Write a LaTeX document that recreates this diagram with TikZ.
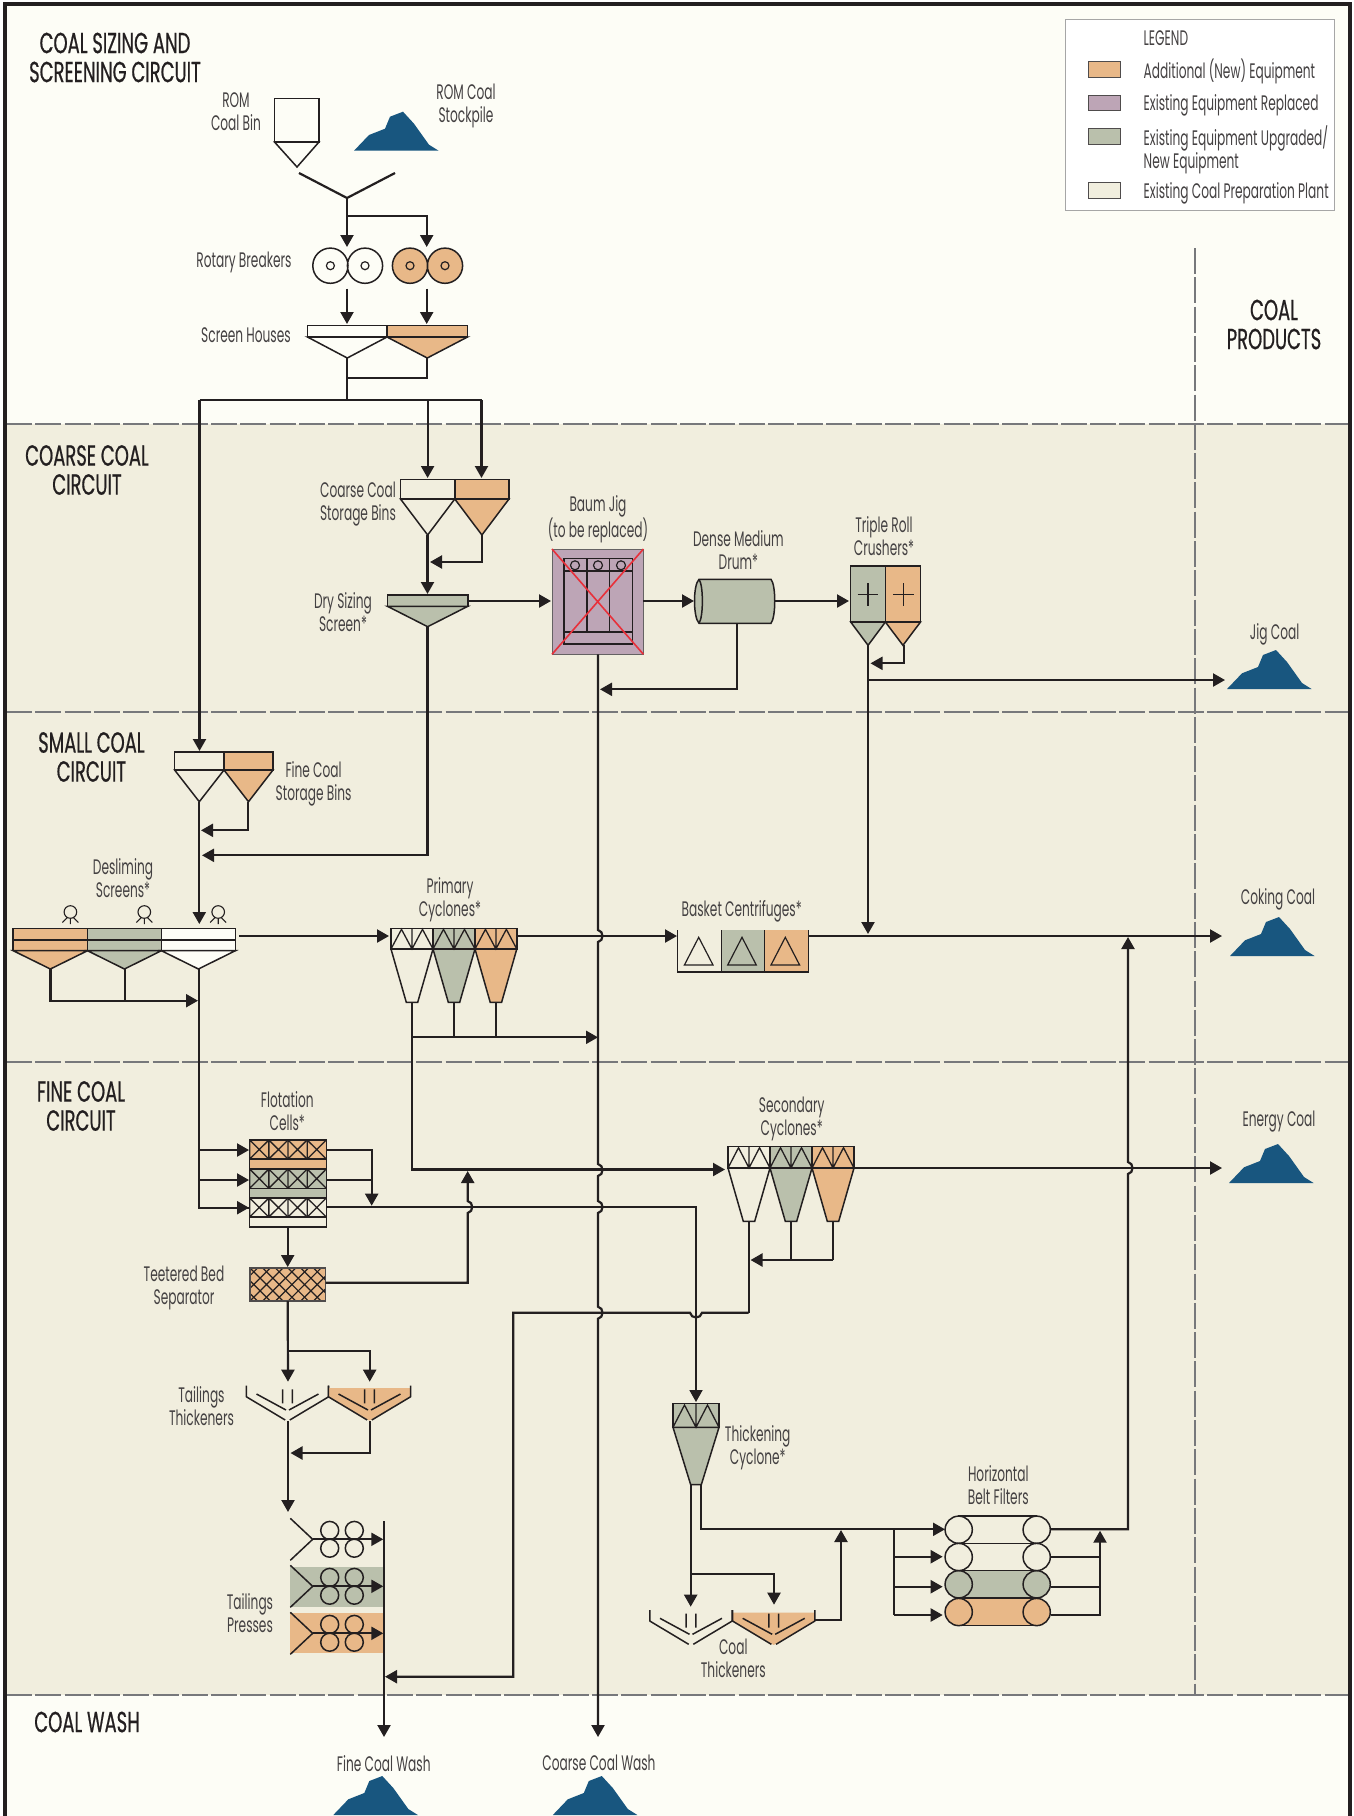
\documentclass[tikz,border=0pt]{standalone}
\usepackage{fontspec}
\usetikzlibrary{arrows.meta}
\newfontfamily\labfont[FakeStretch=0.58]{Poppins}
\newfontfamily\headfont[FakeStretch=0.62,FakeBold=0.6]{Poppins}
\definecolor{ink}{HTML}{231F20}
\definecolor{cream}{HTML}{FDFDF6}
\definecolor{tan}{HTML}{F1EEDE}
\definecolor{orng}{HTML}{E8B888}
\definecolor{grn}{HTML}{BAC0AC}
\definecolor{purp}{HTML}{BDA5B6}
\definecolor{pile}{HTML}{18567F}
\definecolor{sep}{HTML}{77787B}
\tikzset{
 equip/.style={draw=ink,line width=1.5pt,line join=miter},
 flow/.style={draw=ink,line width=2.2pt},
 arr/.style={flow,-{Triangle[length=12pt,width=13pt]}},
 lab/.style={align=center,inner sep=0pt,yshift=-1.5pt,text=ink!85,font=\labfont\fontsize{21}{23}\selectfont},
 llab/.style={lab,anchor=west,align=left},
 head/.style={align=center,inner sep=0pt,text=ink,font=\headfont\fontsize{29}{29}\selectfont},
 sepline/.style={draw=sep,line width=2.6pt,dash pattern=on 26pt off 3.3pt},
}
\newcommand{\stock}[2]{\fill[pile,shift={(#1,#2)}] (0,0) -- (15,-15.7) -- (31,-22) -- (36,-34) -- (49,-39) -- (60,-27) -- (75,-6) -- (84.6,0) -- cycle;}
% hopper: x0 x1 ytop ymid yapex fill
\newcommand{\hopper}[6]{\draw[equip,fill=#6] (#1,#3) rectangle (#2,#4);
 \draw[equip,fill=#6] (#1,#4) -- (#2,#4) -- ({(#1+#2)/2},#5) -- cycle;}
% cyclone: x0 x1 ytop ybar ybot fill
\newcommand{\cyc}[6]{\draw[equip,fill=#6] (#1,#3) rectangle (#2,#4);
 \draw[equip,fill=#6] (#1,#4) -- ({(#1+#2)/2-5.7},#5) -- ({(#1+#2)/2+5.7},#5) -- (#2,#4) -- cycle;
 \draw[equip,line width=1.3pt] ({(#1+#2)/2},#3) -- ({(#1+#2)/2},#4)
  (#1,#4) -- ({#1+(#2-#1)/4},{#3+1}) -- ({(#1+#2)/2},#4) -- ({#1+3*(#2-#1)/4},{#3+1}) -- (#2,#4);}
% thickener: cx ytop
\newcommand{\thkln}[2]{\draw[equip,line join=round]
  ({#1-41.2},#2) -- ({#1-41.2},{#2+11}) -- ({#1-2.3},{#2+34.3})
  ({#1+41.2},#2) -- ({#1+41.2},{#2+11}) -- ({#1+2.3},{#2+34.3})
  ({#1-31},{#2+8.3}) -- ({#1-1.5},{#2+24.3})
  ({#1+31},{#2+8.3}) -- ({#1+1.5},{#2+24.3})
  ({#1-4.9},{#2+3.6}) -- ({#1-4.9},{#2+17.6})
  ({#1+4.9},{#2+3.6}) -- ({#1+4.9},{#2+17.6});}
\newcommand{\thkfl}[2]{\fill[orng] ({#1-41.2},{#2+2.5}) -- ({#1+41.2},{#2+2.5}) -- ({#1+41.2},{#2+11}) -- (#1,{#2+35}) -- ({#1-41.2},{#2+11}) -- cycle;}
% press row: centre y
\newcommand{\pressrow}[1]{\draw[equip] (290.3,{#1-21}) -- (312.7,#1) -- (290.3,{#1+21});
 \foreach \cx in {329.7,354.3}{\draw[equip] (\cx,{#1-8.9}) circle[radius=9] (\cx,{#1+8.9}) circle[radius=9];}}
% flotation row: ytop ymid ybot fill
\newcommand{\flot}[4]{\fill[#4] (249.7,#1) rectangle (326.3,#3);
 \draw[equip] (249.7,#1) rectangle (326.3,#2);
 \foreach \i in {0,1,2,3}{\draw[equip,line width=1.3pt] ({249.7+19.15*\i},#1) -- ++(19.15,{#2-#1}) ({249.7+19.15*\i+19.15},#1) -- ++(-19.15,{#2-#1}) ({249.7+19.15*\i},#1) -- ++(0,{#2-#1});}}
% belt filter: y fill
\newcommand{\beltrow}[2]{\draw[equip,fill=#2] (958.7,{#1-13.6}) -- (1036.7,{#1-13.6}) -- (1036.7,{#1+13.6}) -- (958.7,{#1+13.6}) -- cycle;
 \draw[equip,fill=#2] (958.7,#1) circle[radius=13.6] (1036.7,#1) circle[radius=13.6];}
\newcommand{\motorsym}[1]{\draw[ink,line width=1.1pt] (#1,912) circle[radius=6.3] ({#1-3},917.5) -- ({#1-8},922.5) ({#1+3},917.5) -- ({#1+8},922.5) (#1,918.5) -- (#1,924);}
\newcommand{\hopdn}[2]{-- (#1,{#2-6}) .. controls ({#1+6},{#2-5}) and ({#1+6},{#2+5}) .. (#1,{#2+6})}
\newcommand{\hopup}[2]{-- (#1,{#2+6}) .. controls ({#1+6},{#2+5}) and ({#1+6},{#2-5}) .. (#1,{#2-6})}
\newcommand{\cpt}[3]{\coordinate (#1) at (#2,#3);}
\begin{document}
\begin{tikzpicture}[x=1pt,y=-1pt]
\useasboundingbox (0,0) rectangle (1353,1816);
\begin{scope}
\clip (0,0) rectangle (1353,1816);
\fill[white] (0,0) rectangle (1353,1816);
\fill[cream] (5,4) rectangle (1350,1816);
\fill[tan] (5,424) rectangle (1350,1695);
% separators
\draw[sepline] (6,424) -- (1349,424);
\draw[sepline] (6,712) -- (1349,712);
\draw[sepline] (6,1062) -- (1349,1062);
\draw[sepline] (6,1695) -- (1349,1695);
\draw[sepline,line width=2.4pt] (1195,248) -- (1195,1695);
\draw[ink,line width=3.5pt] (5,1816) -- (5,4) -- (1350,4) -- (1350,1816);
% headings
\node[head] (hSize) at (115,57.5) {COAL SIZING AND\\SCREENING CIRCUIT};
\node[head] (hCoarse) at (87,470) {COARSE COAL\\CIRCUIT};
\node[head] (hSmall) at (91.4,757) {SMALL COAL\\CIRCUIT};
\node[head] (hFine) at (81,1106) {FINE COAL\\CIRCUIT};
\node[head] (hWash) at (87,1722) {COAL WASH};
\node[head] (hProd) at (1274,324.5) {COAL\\PRODUCTS};
% legend
\draw[draw=black!35,fill=white,line width=1pt] (1065.4,19.3) rectangle (1334.5,210.7);
\draw[ink!80,line width=1pt,fill=orng] (1088.6,61.3) rectangle (1120,77.3);
\draw[ink!80,line width=1pt,fill=purp] (1088.6,95) rectangle (1120,110.7);
\draw[ink!80,line width=1pt,fill=grn] (1088.6,128.3) rectangle (1120,144.3);
\draw[ink!80,line width=1pt,fill=tan] (1088.6,182.3) rectangle (1120,198.3);
\node[llab] (lg0) at (1143.5,36.7) {LEGEND};
\node[llab] (lg1) at (1143.5,70) {Additional (New) Equipment};
\node[llab] (lg2) at (1143.5,104) {Existing Equipment Replaced};
\node[llab] (lg3) at (1143.5,148) {Existing Equipment Upgraded/\\New Equipment};
\node[llab] (lg4) at (1143.5,192) {Existing Coal Preparation Plant};
% stockpiles
\stock{354}{150.7}
\stock{1227}{689}
\stock{1230}{956}
\stock{1229}{1183}
\stock{333.3}{1815}
\stock{552.8}{1815}
% ROM bin and chute
\draw[equip] (274.5,98.7) rectangle (319,142);
\draw[equip] (274.5,142) -- (319,142) -- (297,167) -- cycle;
\draw[flow,line join=miter] (299,173) -- (347,198) -- (395,173);
\node[lab] (lROM) at (236,110.5) {ROM\\Coal Bin};
\node[lab] (lPile) at (466,104.5) {ROM Coal\\Stockpile};
% rotary breakers
\foreach \a/\b/\c in {330.4/365/cream,410/445/orng}{
 \draw[equip,fill=\c] (\a,265.7) circle[radius=17.6] (\b,265.7) circle[radius=17.6];
 \draw[equip,line width=1.2pt] (\a,265.7) circle[radius=4] (\b,265.7) circle[radius=4];}
\node[lab] (lRot) at (244,261) {Rotary Breakers};
% screen houses
\hopper{307.5}{387}{325.7}{337}{358}{cream}
\hopper{387}{467.5}{325.7}{337}{358}{orng}
\node[lab] (lScr) at (246,334) {Screen Houses};
% coarse bins
\hopper{400.5}{454.8}{479.3}{499}{535}{tan}
\hopper{454.8}{509}{479.3}{499}{535}{orng}
\node[lab] (lCB) at (358,503) {Coarse Coal\\Storage Bins};
% dry sizing
\hopper{387.5}{467.8}{595}{606.3}{626.7}{grn}
\node[lab] (lDry) at (343,610.5) {Dry Sizing\\Screen*};
% Baum jig
\draw[ink!70,line width=1pt,fill=purp] (552,549) rectangle (643.4,654.3);
\draw[equip] (564,558.7) rectangle (632.6,644);
\draw[equip,line width=2pt] (564,570.7) -- (632.6,570.7) (564,632) -- (632.6,632);
\draw[equip] (587,558.7) -- (587,632) (609.6,558.7) -- (609.6,632);
\foreach \cx in {575,598,621}{\draw[equip,line width=1.2pt] (\cx,565.3) circle[radius=4.5];}
\draw[draw={rgb,255:red,232;green,48;blue,58},line width=1.6pt] (552,549) -- (643.4,654.3) (643.4,549) -- (552,654.3);
\node[lab] (lJig) at (598,517.7) {Baum Jig\\(to be replaced)};
% drum
\draw[equip,fill=grn] (699,579.3) -- (771,579.3) .. controls (776,585) and (776,617) .. (771,623.3) -- (699,623.3) .. controls (693,617) and (693,585) .. (699,579.3) -- cycle;
\draw[equip] (699,579.3) .. controls (703.5,585) and (703.5,617) .. (699,623.3);
\node[lab] (lDrum) at (738.4,548.5) {Dense Medium\\Drum*};
% crushers
\hopper{850.7}{885.4}{566}{622}{645.3}{grn}
\hopper{885.4}{920.5}{566}{622}{645.3}{orng}
\draw[equip] (857.6,594.3) -- (878.4,594.3) (868,583) -- (868,606) (893.2,594.3) -- (914,594.3) (903.6,583) -- (903.6,606);
\node[lab] (lTri) at (884,535) {Triple Roll\\Crushers*};
% product labels
\node[lab] (lJC) at (1274.6,632.5) {Jig Coal};
\node[lab] (lCk) at (1278,898) {Coking Coal};
\node[lab] (lEn) at (1279,1120) {Energy Coal};
\node[lab] (lFW) at (383.8,1761.7) {Fine Coal Wash};
\node[lab] (lCW) at (599,1761.7) {Coarse Coal Wash};
% fine bins
\hopper{174.6}{224}{752}{770}{801.7}{tan}
\hopper{224}{273}{752}{770}{801.7}{orng}
\node[lab] (lFB) at (313.6,782) {Fine Coal\\Storage Bins};
% desliming
\foreach \a/\b/\c in {13.2/87.5/orng,87.5/161.4/grn,161.4/235.4/cream}{
 \hopper{\a}{\b}{928.7}{950.7}{969}{\c}
 \draw[equip] (\a,940) -- (\b,940);}
\motorsym{70.4}\motorsym{144.3}\motorsym{218.2}
\node[lab] (lDes) at (123,876.3) {Desliming\\Screens*};
% primary cyclones
\cyc{391}{433}{928.3}{949}{1002.3}{tan}
\cyc{433}{475}{928.3}{949}{1002.3}{grn}
\cyc{475}{516.8}{928.3}{949}{1002.3}{orng}
\node[lab] (lPri) at (450,898.6) {Primary\\Cyclones*};
% basket
\fill[grn] (721.3,930) rectangle (764.7,972);
\fill[orng] (764.7,930) rectangle (808.3,972);
\draw[equip] (677.3,930) -- (677.3,972) -- (808.3,972) -- (808.3,930) (721.3,930) -- (721.3,972) (764.7,930) -- (764.7,972);
\foreach \cx in {698.7,742,785.3}{\draw[equip,line width=1.2pt] (\cx,937.3) -- ({\cx+14.3},965) -- ({\cx-14.3},965) -- cycle;}
\node[lab] (lBas) at (741.7,910) {Basket Centrifuges*};
% flotation
\flot{1140}{1159}{1169}{orng}
\flot{1169}{1188.3}{1198}{grn}
\flot{1198}{1217}{1227}{tan}
\draw[equip] (249.7,1140) rectangle (326.3,1227);
\draw[equip] (249.7,1159) -- (326.3,1159) (249.7,1169) -- (326.3,1169) (249.7,1188.3) -- (326.3,1188.3) (249.7,1198) -- (326.3,1198) (249.7,1217) -- (326.3,1217);
\node[lab] (lFlo) at (287.3,1109.2) {Flotation\\Cells*};
% teetered
\fill[orng] (250,1268) rectangle (325.7,1301);
\begin{scope}
\clip (250,1268) rectangle (325.7,1301);
\foreach \i in {-3,...,6}{\draw[ink,line width=1.2pt] ({250+12.7*\i},1268) -- ++(33,33) ({250+12.7*\i},1301) -- ++(33,-33);}
\end{scope}
\draw[ink!80,line width=1.2pt] (250,1268) rectangle (325.7,1301);
\node[lab] (lTee) at (184,1286.8) {Teetered Bed\\Separator};
% secondary cyclones
\cyc{728}{770}{1146.7}{1168}{1221.3}{tan}
\cyc{770}{812}{1146.7}{1168}{1221.3}{grn}
\cyc{812}{854}{1146.7}{1168}{1221.3}{orng}
\node[lab] (lSec) at (791.7,1117) {Secondary\\Cyclones*};
% thickeners
\thkln{287.5}{1385.7}
\thkfl{369.5}{1385.7}
\thkln{369.5}{1385.7}
\node[lab] (lTT) at (201.5,1405) {Tailings\\Thickeners};
\thkln{691}{1610}
\thkfl{773.7}{1610}
\thkln{773.7}{1610}
\node[lab] (lCT) at (733.3,1657.3) {Coal\\Thickeners};
% presses
\fill[grn] (290.3,1567) rectangle (383.3,1606.7);
\fill[orng] (290.3,1613) rectangle (383.3,1652.7);
\pressrow{1539.3}\pressrow{1586.3}\pressrow{1633.3}
\node[lab] (lPr) at (250,1611.7) {Tailings\\Presses};
% thickening cyclone
\draw[equip,fill=grn] (673,1403.7) rectangle (719,1427.3);
\draw[equip,fill=grn] (673,1427.3) -- (690.7,1484.7) -- (701.3,1484.7) -- (719,1427.3) -- cycle;
\draw[equip,line width=1.3pt] (696,1403.7) -- (696,1427.3) (673,1427.3) -- (684.5,1405) -- (696,1427.3) -- (707.5,1405) -- (719,1427.3);
\node[lab] (lThk) at (757.7,1445.8) {Thickening\\Cyclone*};
% belt filters
\beltrow{1529.7}{tan}\beltrow{1557}{tan}\beltrow{1584.3}{grn}\beltrow{1612}{orng}
\node[lab] (lHB) at (998.3,1483.5) {Horizontal\\Belt Filters};
% --- connection points
\cpt{ch}{347}{198}\cpt{chj}{347}{216}\cpt{b1in}{347}{247}\cpt{b2in}{426.7}{247}
\cpt{b1out}{347}{288.7}\cpt{b2out}{426.7}{288.7}\cpt{s1in}{347}{324}\cpt{s2in}{426.7}{324}
\cpt{s1ap}{347}{358}\cpt{s2ap}{427}{358}\cpt{sj}{347}{378}\cpt{dist}{347}{400}
\cpt{dL}{199.5}{400}\cpt{dM}{427.6}{400}\cpt{dR}{481.5}{400}
\cpt{cb1}{427.6}{478}\cpt{cb2}{481.5}{478}\cpt{fb1}{199.5}{751}
\cpt{cb1ap}{427.5}{535}\cpt{cb2ap}{481.6}{535}\cpt{cbj}{430}{562}\cpt{dryin}{427.5}{594}
\cpt{dryap}{427.5}{626.7}\cpt{dryE}{469}{601}\cpt{jigW}{551}{601}\cpt{dryJ}{202}{855.3}
\cpt{jigE}{643.4}{601}\cpt{drW}{694}{601}\cpt{drE}{775}{601}\cpt{crW}{849}{601}\cpt{drS}{736.6}{623.3}
\cpt{jigRet}{600}{689.3}\cpt{jigS}{598}{654.3}\cpt{cwIn}{598}{1737}
\cpt{cr1ap}{868}{645.3}\cpt{cr2ap}{903.6}{645.3}\cpt{crJ}{870.5}{663.3}\cpt{crM}{868}{680}\cpt{jcIn}{1225}{680}\cpt{ckDrop}{868}{934}
\cpt{fb1ap}{199.3}{801.7}\cpt{fb2ap}{248}{801.7}\cpt{fbJ}{201}{830.3}\cpt{dsIn}{199.3}{924}
\cpt{ds1ap}{50.4}{969}\cpt{ds2ap}{124.6}{969}\cpt{ds3ap}{198.8}{969}\cpt{dsJ}{198}{1000.7}
\cpt{dsE}{239}{936}\cpt{prW}{389}{936}\cpt{prE}{516.8}{936}\cpt{baW}{677}{936}\cpt{baE}{808.3}{936}\cpt{ckIn}{1222}{936}
\cpt{p1}{411.8}{1002.3}\cpt{p2}{453.6}{1002.3}\cpt{p3}{495.7}{1002.3}\cpt{pJ}{598}{1037.3}\cpt{secW}{725}{1169.5}
\cpt{f1}{249}{1150}\cpt{f2}{249}{1180}\cpt{f3}{249}{1207.7}
\cpt{fo1}{326.3}{1150}\cpt{fo2}{326.3}{1180}\cpt{fo3}{326.3}{1207}\cpt{foJ}{371.7}{1205.7}\cpt{thcIn}{696}{1402}
\cpt{floS}{287.7}{1227}\cpt{teeN}{287.7}{1267}\cpt{teeE}{325.7}{1282.7}\cpt{teeUp}{467.7}{1171}\cpt{teeS}{287.7}{1301}
\cpt{ttL}{288}{1381.7}\cpt{ttR}{369.7}{1381.7}\cpt{ttLS}{288}{1421}\cpt{ttRS}{369.7}{1421}\cpt{ttJ}{290.5}{1453}\cpt{presIn}{288}{1512}
\cpt{pcT}{384}{1521}\cpt{fwIn}{384}{1737}
\cpt{sc1}{748.7}{1221.3}\cpt{sc2}{791}{1221.3}\cpt{sc3}{833}{1221.3}\cpt{scJ}{750.5}{1260}\cpt{secE}{854}{1168}\cpt{enIn}{1222}{1168}
\cpt{scBack}{513.3}{1312.7}\cpt{pcIn}{385}{1676.7}
\cpt{thL}{690.7}{1484.7}\cpt{thR}{701.3}{1484.7}\cpt{ctL}{690.7}{1606.7}\cpt{ctR}{774}{1604.7}\cpt{thB}{690.7}{1573.7}\cpt{bfIn}{945}{1529.3}
\cpt{ctE}{815}{1620}\cpt{ctJ}{841}{1530}\cpt{bfV}{893.7}{1529.3}
\cpt{bf2}{942.7}{1556.7}\cpt{bf3}{942.7}{1586.7}\cpt{bf4}{942.7}{1615}
\cpt{bo1}{1050.7}{1529.3}\cpt{bo2}{1050.7}{1556.7}\cpt{bo3}{1050.7}{1586.7}\cpt{bo4}{1050.7}{1615}\cpt{boJ}{1100}{1530.7}\cpt{ckR}{1128}{937}
% --- connectors
\draw[arr] (ch) -- (b1in);
\draw[arr] (chj) -| (b2in);
\draw[arr] (b1out) -- (s1in);
\draw[arr] (b2out) -- (s2in);
\draw[flow] (s1ap) -- (dist);
\draw[flow] (s2ap) |- (sj);
\draw[flow] (dL) -- (dR);
\draw[arr] (dL) -- (fb1);
\draw[arr] (dM) -- (cb1);
\draw[arr] (dR) -- (cb2);
\draw[arr] (cb1ap) -- (dryin);
\draw[arr] (cb2ap) |- (cbj);
\draw[arr] (dryap) |- (dryJ);
\draw[arr] (dryE) -- (jigW);
\draw[arr] (jigE) -- (drW);
\draw[arr] (drE) -- (crW);
\draw[arr] (drS) |- (jigRet);
\draw[arr] (jigS) \hopdn{598}{936} \hopdn{598}{1170} \hopdn{598}{1207} \hopdn{598}{1312.7} -- (cwIn);
\draw[arr] (cr2ap) |- (crJ);
\draw[arr] (cr1ap) -- (ckDrop);
\draw[arr] (crM) -- (jcIn);
\draw[arr] (fb2ap) |- (fbJ);
\draw[arr] (fb1ap) -- (dsIn);
\draw[flow] (ds2ap) -- (124.6,1000.7);
\draw[arr] (ds1ap) |- (dsJ);
\draw[flow] (ds3ap) |- (f3);
\draw[arr] (199,1150) -- (f1);
\draw[arr] (199,1180) -- (f2);
\draw[arr] (199,1207.7) -- (f3);
\draw[arr] (dsE) -- (prW);
\draw[arr] (prE) -- (baW);
\draw[arr] (baE) -- (ckIn);
\draw[arr] (p1) |- (secW);
\draw[flow] (p2) -- (453.6,1037.3);
\draw[flow] (p3) -- (495.7,1037.3);
\draw[arr] (411.8,1037.3) -- (pJ);
\draw[flow] (fo1) -| (371.7,1180);
\draw[flow] (fo2) -- (371.7,1180);
\draw[arr] (371.7,1180) -- (foJ);
\draw[arr,line width=1.8pt] (fo3) -| (thcIn);
\draw[arr] (floS) -- (teeN);
\draw[arr] (teeE) -- (467.7,1282.7) \hopup{467.7}{1207} -- (teeUp);
\draw[arr] (teeS) -- (ttL);
\draw[arr] (288,1351) -| (ttR);
\draw[arr] (ttLS) -- (presIn);
\draw[arr] (ttRS) |- (ttJ);
\draw[arr] (312.7,1539.3) -- (383.3,1539.3);
\draw[arr] (312.7,1586.3) -- (383.3,1586.3);
\draw[arr] (312.7,1633.3) -- (383.3,1633.3);
\draw[arr] (pcT) -- (fwIn);
\draw[flow] (sc1) -- (748.7,1312.7);
\draw[flow] (sc2) -- (791,1260);
\draw[flow] (sc3) -- (833,1260);
\draw[arr] (833,1260) -- (scJ);
\draw[arr] (748.7,1312.7) -- (702,1312.7) .. controls (701,1319) and (691,1319) .. (690,1312.7) -- (scBack) -- (513.3,1676.7) -- (pcIn);
\draw[arr] (secE) -- (enIn);
\draw[arr] (thL) -- (ctL);
\draw[arr] (thB) -| (ctR);
\draw[arr] (thR) |- (bfIn);
\draw[arr] (ctE) -| (ctJ);
\draw[flow] (bfV) -- (893.7,1615);
\draw[arr] (893.7,1556.7) -- (bf2);
\draw[arr] (893.7,1586.7) -- (bf3);
\draw[arr] (893.7,1615) -- (bf4);
\draw[arr] (bo1) -- (1128,1529.3) \hopup{1128}{1168} -- (ckR);
\draw[flow] (bo2) -- (1100,1556.7);
\draw[flow] (bo3) -- (1100,1586.7);
\draw[arr] (bo4) -| (boJ);
\end{scope}
\end{tikzpicture}
\end{document}
